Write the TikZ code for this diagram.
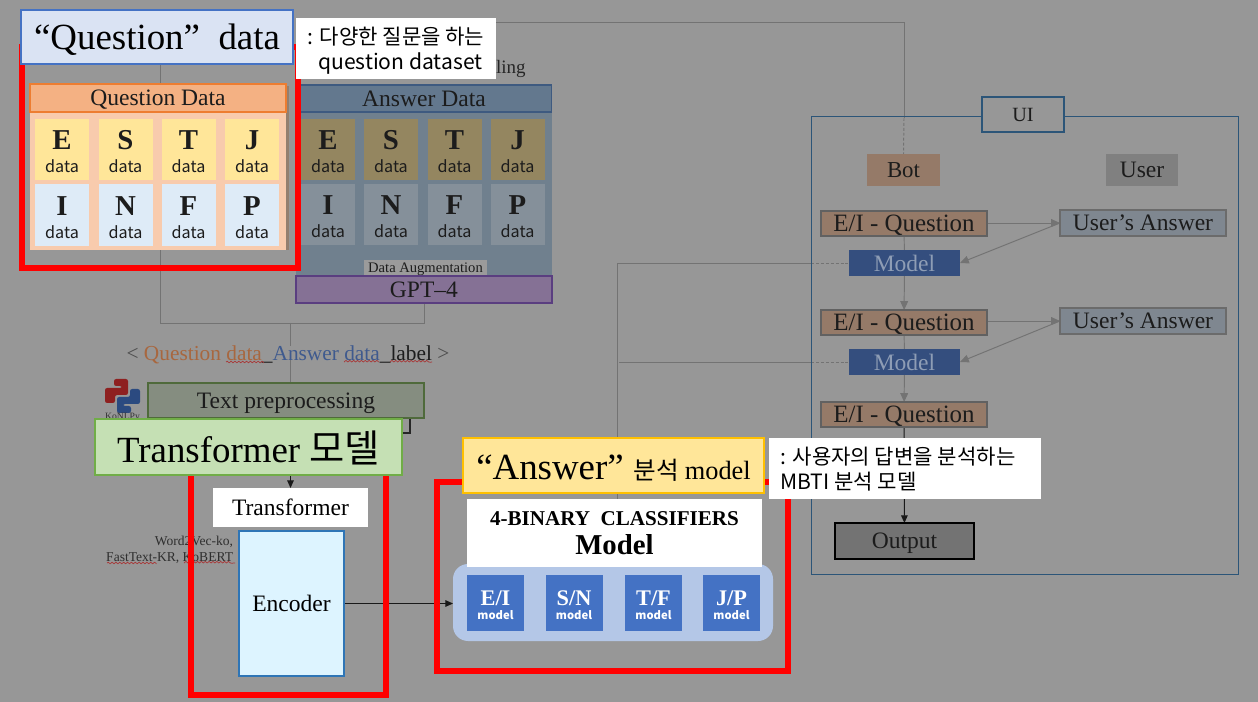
\documentclass[tikz,border=0pt]{standalone}
\usepackage{fontspec}
\usepackage{xcolor}
\setmainfont{Liberation Serif}
\newfontfamily\krfont{Noto Sans CJK KR}
\usetikzlibrary{arrows.meta,backgrounds,decorations.pathmorphing}
\definecolor{page}{HTML}{979797}
\definecolor{inktext}{HTML}{1C1C1C}
\definecolor{redline}{HTML}{FF0000}
\definecolor{linkgray}{HTML}{737373}
\definecolor{uiblue}{HTML}{2C5578}
\definecolor{brownbox}{HTML}{957A68}
\definecolor{modelblue}{HTML}{344E7E}
\definecolor{qhi}{HTML}{FFE699}
\definecolor{qlo}{HTML}{DEEBF7}
\definecolor{ahi}{HTML}{948660}
\definecolor{alo}{HTML}{85909A}
\definecolor{mcell}{HTML}{4472C4}
\definecolor{modeltext}{HTML}{8E9DB5}
\definecolor{uagray}{HTML}{7F8790}
\definecolor{spellred}{HTML}{A83838}
\definecolor{aback}{HTML}{70808E}
\definecolor{ahead}{HTML}{63788E}
\definecolor{aheadline}{HTML}{3E5A80}
\definecolor{augback}{HTML}{9B9B9B}
\definecolor{gptfill}{HTML}{857195}
\definecolor{gptline}{HTML}{5A3E80}
\definecolor{qshadow}{HTML}{937F6F}
\definecolor{qback}{HTML}{F8CBAD}
\definecolor{qhead}{HTML}{F4B183}
\definecolor{qheadline}{HTML}{ED7D31}
\definecolor{titleblue}{HTML}{DAE3F3}
\definecolor{titleline}{HTML}{4472C4}
\definecolor{pairbrown}{HTML}{A8673F}
\definecolor{pairblue}{HTML}{3F5A8E}
\definecolor{prepfill}{HTML}{858D80}
\definecolor{prepline}{HTML}{4F6A3B}
\definecolor{pyred}{HTML}{8E2020}
\definecolor{pyblue}{HTML}{2B4A80}
\definecolor{encfill}{HTML}{DDF4FF}
\definecolor{encline}{HTML}{2E75B6}
\definecolor{ttlgreen}{HTML}{C5E0B4}
\definecolor{ttlline}{HTML}{70AD47}
\definecolor{cboxfill}{HTML}{B4C7E7}
\definecolor{atitleline}{HTML}{FFC000}
\newcommand{\fsz}[1]{\fontsize{#1}{#1}\selectfont}
\newcommand{\datacell}[1]{\rule{0pt}{13.2pt}{\fsz{16.4}\bfseries #1}\\[1pt]{\krfont\fsz{9.2}data}}
\newcommand{\modelcell}[1]{\rule{0pt}{11pt}{\fsz{12.7}\bfseries #1}\\[-4pt]{\krfont\fsz{6.4}\bfseries model}}
\begin{document}
\begin{tikzpicture}[x=0.02cm,y=-0.02cm,
 every node/.style={inner sep=0pt,outer sep=0pt,align=center,text=inktext,text depth=0pt},
 wh/.style 2 args={minimum width=#1*0.02cm,minimum height=#2*0.02cm},
 qcellhi/.style={wh={54}{61},fill=qhi},
 qcelllo/.style={wh={54}{62},fill=qlo},
 acellhi/.style={wh={54}{61},fill=ahi},
 acelllo/.style={wh={54}{61},fill=alo},
 modelbox/.style={wh={57}{56},fill=mcell,text=white},
 note/.style={fill=white,text=black,align=left,font=\krfont\fsz{12}},
 eibox/.style={wh={166}{25},fill=brownbox,draw=black!62,line width=0.6pt,font=\fsz{14.2}},
 botmodel/.style={wh={111}{26},fill=modelblue,text=modeltext,font=\fsz{13.4}},
 uabox/.style={wh={166}{26},fill=uagray,draw=black!58,line width=0.6pt,font=\fsz{13.4}},
 link/.style={draw=linkgray,line width=0.55pt},
 finedash/.style={dash pattern=on 1.7pt off 1.1pt},
 arrowlink/.style={link,-{Triangle[length=5pt,width=4.4pt]}},
 blackarrow/.style={draw=black!90,line width=0.6pt,-{Triangle[length=4.4pt,width=3.8pt]}},
 redframe/.style={draw=redline,line width=3.4pt},
 spell/.style={draw=spellred,line width=0.4pt,decorate,decoration={snake,amplitude=0.45pt,segment length=2.2pt}}]
\useasboundingbox (0,0) rectangle (1258,702);
% answer side, dimmed
\node[wh={256}{192},fill=aback] (answerback) at (424,181) {};
\node[wh={255}{27},fill=ahead,draw=aheadline,line width=0.7pt,font=\fsz{13.4}] (answerhead) at (424,98.5) {Answer Data};
\node[acellhi] (ae) at (328,149.5) {\datacell{E}};
\node[acellhi] (as) at (391,149.5) {\datacell{S}};
\node[acellhi] (at) at (454.5,149.5) {\datacell{T}};
\node[acellhi] (aj) at (517.5,149.5) {\datacell{J}};
\node[acelllo] (ai) at (328,214.5) {\datacell{I}};
\node[acelllo] (an) at (391,214.5) {\datacell{N}};
\node[acelllo] (af) at (454.5,214.5) {\datacell{F}};
\node[acelllo] (ap) at (517.5,214.5) {\datacell{P}};
\node[wh={123}{16},fill=augback,font=\fsz{8.3}] (aug) at (425.5,268) {Data Augmentation};
\node[wh={256}{27},fill=gptfill,draw=gptline,line width=0.7pt,font=\fsz{13.4}] (gpt) at (424,289.5) {GPT--4};
\node[anchor=west,font=\fsz{10.8},text=black!85] (ling) at (496,67) {ling};
% question side
\node[wh={3}{164},fill=qshadow] (qshadow) at (287.5,168) {};
\node[wh={256}{167},fill=qback] (qback) at (158,166.5) {};
\node[wh={256}{28},fill=qhead,draw=qheadline,line width=0.7pt,font=\fsz{13.4}] (qhead) at (158,98) {Question Data};
\node[qcellhi] (qe) at (62,149.5) {\datacell{E}};
\node[qcellhi] (qs) at (125.5,149.5) {\datacell{S}};
\node[qcellhi] (qt) at (188.5,149.5) {\datacell{T}};
\node[qcellhi] (qj) at (252,149.5) {\datacell{J}};
\node[qcelllo] (qi) at (62,215) {\datacell{I}};
\node[qcelllo] (qn) at (125.5,215) {\datacell{N}};
\node[qcelllo] (qf) at (188.5,215) {\datacell{F}};
\node[qcelllo] (qp) at (252,215) {\datacell{P}};
\draw[redframe] (22,47) rectangle (298,268);
\node[wh={272}{54},fill=titleblue,draw=titleline,line width=0.7pt,font=\fsz{21},text=black] (qtitle) at (157,37) {``Question''~~data};
\node[wh={200}{61},note] (qnote) at (396,48.5) {: 다양한 질문을 하는\\[2pt]\hspace*{6pt}question dataset};
% preprocessing
\node[font=\fsz{12.15}] (pair) at (288,353) {{\color{black!70}<} {\color{pairbrown}Question data}\_{\color{pairblue}Answer data}\_label {\color{black!70}>}};
\draw[spell] (226,362) -- (262,362) (344,362) -- (379,362) (390,362) -- (432,362);
\node[wh={276}{35},fill=prepfill,draw=prepline,line width=0.7pt,font=\fsz{13.4}] (prep) at (286,400.5) {Text preprocessing};
\fill[pyred,rounded corners=1.2pt] (114,379) -- (128,379) -- (128,395) -- (115,395) -- (115,403) -- (105,403) -- (105,388) -- (122,388) -- (122,386) -- (114,386) -- cycle;
\fill[pyblue,rounded corners=1.2pt] (131,413) -- (117,413) -- (117,397) -- (130,397) -- (130,389) -- (140,389) -- (140,404) -- (123,404) -- (123,406) -- (131,406) -- cycle;
\node[font=\fsz{5.5},text=black!80] (konlpy) at (122.5,416) {KoNLPy};
\node[anchor=east,align=right,font=\fontsize{7.7}{9}\selectfont,text=black!82] (embed) at (233,549) {Word2Vec-ko,\\FastText-KR, KoBERT};
\draw[spell] (107,563) -- (155,563) (184,563) -- (235,563);
% transformer
\node[wh={155}{39},fill=white,text=black,font=\fsz{13.4}] (trans) at (290.5,507.5) {Transformer};
\node[wh={105}{145},fill=encfill,draw=encline,line width=0.6pt,text=black,font=\fsz{13.4}] (encoder) at (291.5,603.5) {Encoder};
\draw[redframe] (191,447) rectangle (386,695);
\node[wh={307}{56},fill=ttlgreen,draw=ttlline,line width=0.8pt,text=black,font=\fsz{21}] (ttitle) at (248.5,447) {Transformer {\krfont\fsz{21.8}모델}};
% classifiers
\draw[redframe] (437,482) rectangle (788,671);
\node[wh={320}{77},fill=cboxfill,rounded corners=0.3cm] (cbox) at (613,602.5) {};
\node[wh={295}{68},fill=white,text=black] (clstitle) at (614.5,533) {{\fsz{12}\bfseries 4-BINARY~~CLASSIFIERS}\\[5pt]{\fsz{16.4}\bfseries Model}};
\node[modelbox] (eimodel) at (495.5,603) {\modelcell{E/I}};
\node[modelbox] (snmodel) at (574,603) {\modelcell{S/N}};
\node[modelbox] (tfmodel) at (653.5,602.5) {\modelcell{T/F}};
\node[modelbox] (jpmodel) at (731.5,602.5) {\modelcell{J/P}};
\node[wh={301}{55},fill=qhi,draw=atitleline,line width=0.7pt,text=black] (atitle) at (613.5,465.5) {\rule{0pt}{16.5pt}{\fsz{21}``Answer''}\hspace{3pt} {\krfont\fsz{14}분석}\hspace{1pt} {\fsz{15}model}};
% ui
\node[wh={427}{458},draw=uiblue,line width=0.45pt] (uiframe) at (1024.5,345) {};
\node[wh={82}{35},fill=page,draw=uiblue,line width=1pt,font=\fsz{11.5}] (uilabel) at (1023,114.5) {UI};
\node[wh={73}{32},fill=brownbox,font=\fsz{13}] (bot) at (903.5,170) {Bot};
\node[wh={72}{32},fill=black!50,font=\fsz{13.4}] (user) at (1142,170) {User};
\node[eibox] (eione) at (904,223.5) {E/I - Question};
\node[botmodel] (modelone) at (904.5,263) {Model};
\node[eibox] (eitwo) at (904,322.5) {E/I - Question};
\node[botmodel] (modeltwo) at (904.5,362) {Model};
\node[eibox] (eithree) at (904,414.5) {E/I - Question};
\node[uabox] (uaone) at (1143,223) {User’s Answer};
\node[uabox] (uatwo) at (1143,321) {User’s Answer};
\node[wh={139}{36},fill=black!55,draw=black,line width=0.7pt,font=\fsz{13.4}] (output) at (904.5,541) {Output};
\node[wh={272}{61},note] (anote) at (905,468.5) {: 사용자의 답변을 분석하는\hspace*{8pt}\\[2pt]MBTI 분석 모델};
% connectors
\coordinate (qjoin) at (160,323);
\coordinate (mjoin) at (290,323);
\coordinate (topstart) at (496,22);
\coordinate (topcorner) at (904,22);
\coordinate (topdash) at (904,118);
\coordinate (mcorner) at (617,263);
\coordinate (uiedgeone) at (811,263);
\coordinate (mstart) at (619,362);
\coordinate (uiedgetwo) at (811,362);
\coordinate (prepturn) at (410,433);
\begin{scope}[on background layer]
\fill[page] (0,0) rectangle (1258,702);
\draw[link] (qtitle.south -| qjoin) -- (qjoin) -- (gpt |- qjoin) -- (gpt.south);
\draw[link] (mjoin) -- (pair.north -| mjoin);
\draw[link] (pair.south -| mjoin) -- (prep.north -| mjoin);
\draw[link] (topstart) -- (topcorner) -- (topdash);
\draw[link,finedash] (topdash) -- (bot.north);
\draw[link] (clstitle.north -| mcorner) -- (mcorner) -- (uiedgeone);
\draw[link,finedash] (uiedgeone) -- (modelone.west);
\draw[link] (mstart) -- (uiedgetwo);
\draw[link,finedash] (uiedgetwo) -- (modeltwo.west);
\draw[draw=black!85,line width=0.6pt] (prep.south -| prepturn) -- (prepturn) -- (ttitle.east |- prepturn);
\draw[blackarrow] (ttitle.south -| trans) -- (trans.north);
\draw[blackarrow] (encoder.east) -- (cbox.west |- encoder.east);
\draw[link] (eione) -- (modelone);
\draw[arrowlink] (modelone) -- (eitwo);
\draw[link] (eitwo) -- (modeltwo);
\draw[arrowlink] (modeltwo) -- (eithree);
\draw[blackarrow] (eithree) -- (output);
\draw[arrowlink] (uaone.west -| eione.east) -- (uaone.west);
\draw[arrowlink] (uaone.west) -- (modelone.east);
\draw[arrowlink] (uatwo.west -| eitwo.east) -- (uatwo.west);
\draw[arrowlink] (uatwo.west) -- (modeltwo.east);
\end{scope}
\end{tikzpicture}
\end{document}
